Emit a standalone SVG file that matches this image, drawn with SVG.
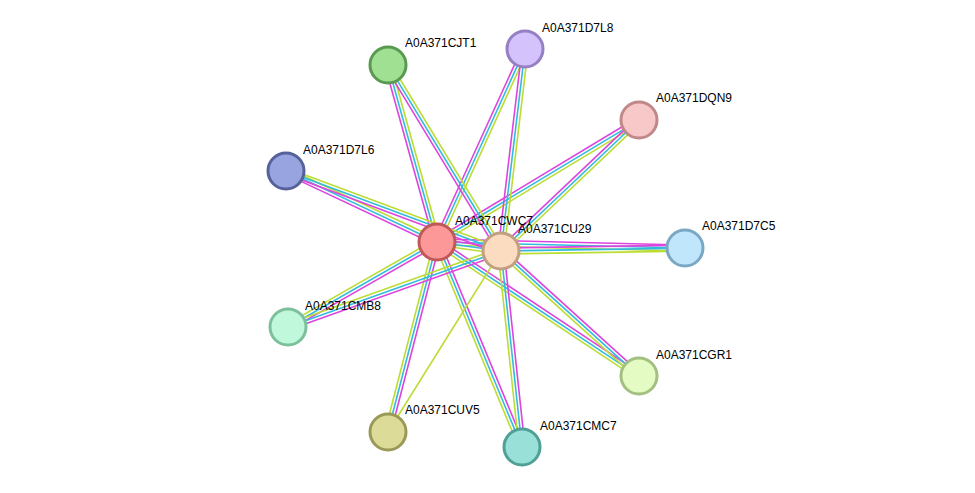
<svg xmlns="http://www.w3.org/2000/svg" width="975" height="493" viewBox="0 0 975 493">
<style>
.m{stroke:#dd44dd;stroke-width:1.6}
.c{stroke:#33bbdd;stroke-width:1.6}
.y{stroke:#bbdd33;stroke-width:1.6}
circle{stroke-width:3}
text{font-family:"Liberation Sans",Arial,sans-serif;font-size:12px;fill:#000}
</style>
<rect width="975" height="493" fill="#fff"/>
<g id="connectors">
<g transform="translate(437,242) rotate(-105.5)"><line class="m" x1="0" y1="-3" x2="183.7" y2="-3"/><line class="c" x1="0" y1="0" x2="183.7" y2="0"/><line class="y" x1="0" y1="3" x2="183.7" y2="3"/></g>
<g transform="translate(437,242) rotate(-65.5)"><line class="m" x1="0" y1="-3" x2="212" y2="-3"/><line class="c" x1="0" y1="0" x2="212" y2="0"/><line class="y" x1="0" y1="3" x2="212" y2="3"/></g>
<g transform="translate(437,242) rotate(-31.1)"><line class="m" x1="0" y1="-3" x2="236" y2="-3"/><line class="c" x1="0" y1="0" x2="236" y2="0"/><line class="y" x1="0" y1="3" x2="236" y2="3"/></g>
<g transform="translate(437,242) rotate(-154.8)"><line class="m" x1="0" y1="-3" x2="167" y2="-3"/><line class="c" x1="0" y1="0" x2="167" y2="0"/><line class="y" x1="0" y1="3" x2="167" y2="3"/></g>
<g transform="translate(437,242) rotate(1.4)"><line class="m" x1="0" y1="-3" x2="248" y2="-3"/><line class="c" x1="0" y1="0" x2="248" y2="0"/><line class="y" x1="0" y1="3" x2="248" y2="3"/></g>
<g transform="translate(437,242) rotate(150.3)"><line class="m" x1="0" y1="-3" x2="171.5" y2="-3"/><line class="c" x1="0" y1="0" x2="171.5" y2="0"/><line class="y" x1="0" y1="3" x2="171.5" y2="3"/></g>
<g transform="translate(437,242) rotate(33.6)"><line class="m" x1="0" y1="-3" x2="242.4" y2="-3"/><line class="c" x1="0" y1="0" x2="242.4" y2="0"/><line class="y" x1="0" y1="3" x2="242.4" y2="3"/></g>
<g transform="translate(437,242) rotate(104.5)"><line class="m" x1="0" y1="-3" x2="196" y2="-3"/><line class="c" x1="0" y1="0" x2="196" y2="0"/><line class="y" x1="0" y1="3" x2="196" y2="3"/></g>
<g transform="translate(437,242) rotate(67.5)"><line class="m" x1="0" y1="-3" x2="222" y2="-3"/><line class="c" x1="0" y1="0" x2="222" y2="0"/><line class="y" x1="0" y1="3" x2="222" y2="3"/></g>
<g transform="translate(437,242) rotate(8)"><line class="m" x1="0" y1="-3" x2="64.6" y2="-3"/><line class="c" x1="0" y1="0" x2="64.6" y2="0"/><line class="y" x1="0" y1="3" x2="64.6" y2="3"/></g>
<g transform="translate(501,251) rotate(-121.3)"><line class="m" x1="0" y1="-3" x2="217.6" y2="-3"/><line class="c" x1="0" y1="0" x2="217.6" y2="0"/><line class="y" x1="0" y1="3" x2="217.6" y2="3"/></g>
<g transform="translate(501,251) rotate(-83.2)"><line class="m" x1="0" y1="-3" x2="203.4" y2="-3"/><line class="c" x1="0" y1="0" x2="203.4" y2="0"/><line class="y" x1="0" y1="3" x2="203.4" y2="3"/></g>
<g transform="translate(501,251) rotate(-43.5)"><line class="m" x1="0" y1="-3" x2="190.3" y2="-3"/><line class="c" x1="0" y1="0" x2="190.3" y2="0"/><line class="y" x1="0" y1="3" x2="190.3" y2="3"/></g>
<g transform="translate(501,251) rotate(-159.6)"><line class="m" x1="0" y1="-3" x2="229.4" y2="-3"/><line class="c" x1="0" y1="0" x2="229.4" y2="0"/><line class="y" x1="0" y1="3" x2="229.4" y2="3"/></g>
<g transform="translate(501,251) rotate(-0.9)"><line class="m" x1="0" y1="-3" x2="184" y2="-3"/><line class="c" x1="0" y1="0" x2="184" y2="0"/><line class="y" x1="0" y1="3" x2="184" y2="3"/></g>
<g transform="translate(501,251) rotate(160.4)"><line class="m" x1="0" y1="-3" x2="226.2" y2="-3"/><line class="c" x1="0" y1="0" x2="226.2" y2="0"/><line class="y" x1="0" y1="3" x2="226.2" y2="3"/></g>
<g transform="translate(501,251) rotate(42.2)"><line class="m" x1="0" y1="-3" x2="186.2" y2="-3"/><line class="c" x1="0" y1="0" x2="186.2" y2="0"/><line class="y" x1="0" y1="3" x2="186.2" y2="3"/></g>
<g transform="translate(501,251) rotate(83.9)"><line class="m" x1="0" y1="-3" x2="197.1" y2="-3"/><line class="c" x1="0" y1="0" x2="197.1" y2="0"/><line class="y" x1="0" y1="3" x2="197.1" y2="3"/></g>
<line class="y" x1="501" y1="251" x2="388" y2="432"/>
</g>
<g id="A0A371CJT1"><circle cx="388" cy="65" r="18" fill="#a0e093" stroke="#5a9a50"/><text x="405" y="47">A0A371CJT1</text></g>
<g id="A0A371D7L8"><circle cx="525" cy="49" r="18" fill="#d3c2fc" stroke="#9580c4"/><text x="542" y="32">A0A371D7L8</text></g>
<g id="A0A371DQN9"><circle cx="639" cy="120" r="18" fill="#f8c8c8" stroke="#c08888"/><text x="656" y="102">A0A371DQN9</text></g>
<g id="A0A371D7L6"><circle cx="286" cy="171" r="18" fill="#98a4e0" stroke="#56609a"/><text x="303" y="154">A0A371D7L6</text></g>
<g id="A0A371D7C5"><circle cx="685" cy="248" r="18" fill="#c0e6fc" stroke="#7aa8c4"/><text x="702" y="230">A0A371D7C5</text></g>
<g id="A0A371CMB8"><circle cx="288" cy="327" r="18" fill="#c0f8dc" stroke="#7cc09c"/><text x="305" y="310">A0A371CMB8</text></g>
<g id="A0A371CGR1"><circle cx="639" cy="376" r="18" fill="#e4fcc4" stroke="#a4c080"/><text x="656" y="359">A0A371CGR1</text></g>
<g id="A0A371CUV5"><circle cx="388" cy="432" r="18" fill="#dcdc98" stroke="#9a9a58"/><text x="405" y="414">A0A371CUV5</text></g>
<g id="A0A371CMC7"><circle cx="522" cy="447" r="18" fill="#98e0d8" stroke="#50a098"/><text x="540" y="430">A0A371CMC7</text></g>
<g id="A0A371CWC7"><circle cx="437" cy="242" r="18" fill="#fc9898" stroke="#c05858"/><text x="455" y="225">A0A371CWC7</text></g>
<g id="A0A371CU29"><circle cx="501" cy="251" r="18" fill="#fcdcc0" stroke="#c0a080"/><text x="518" y="233">A0A371CU29</text></g>
</svg>
